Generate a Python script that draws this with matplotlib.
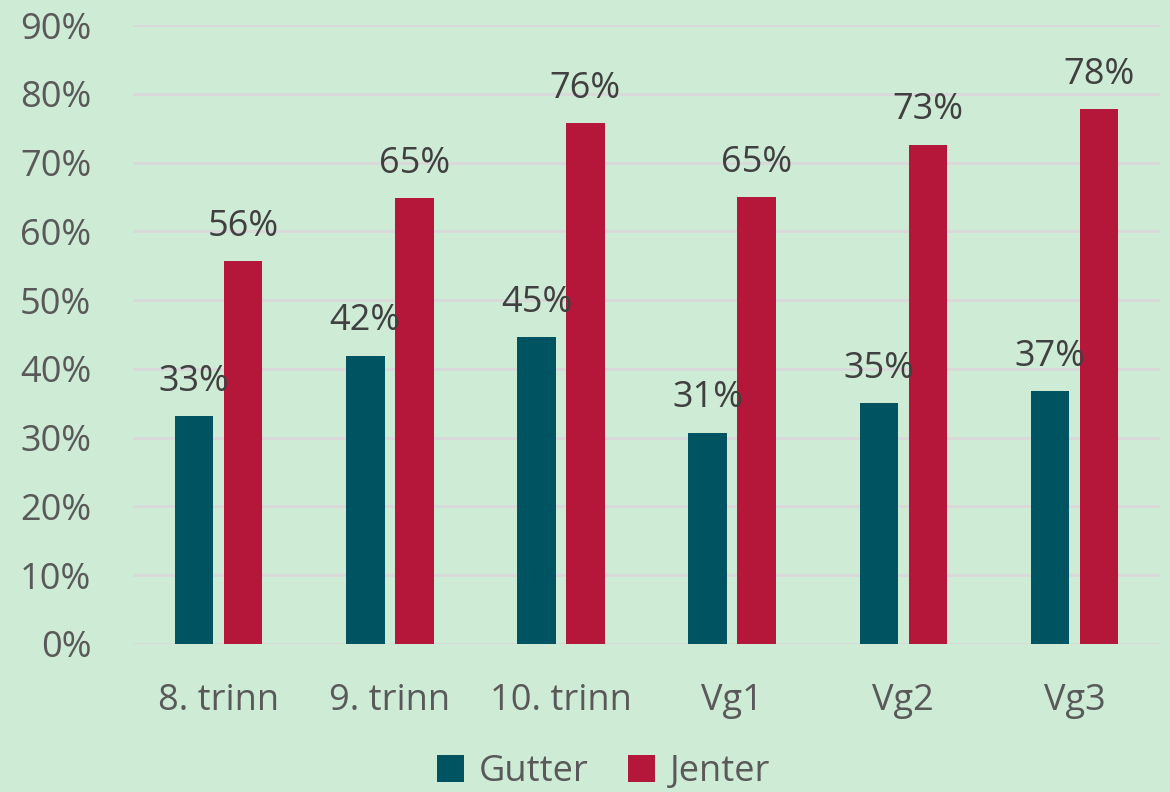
import matplotlib.pyplot as plt
import numpy as np

categories = ["8. trinn", "9. trinn", "10. trinn", "Vg1", "Vg2", "Vg3"]
gutter = [33.1, 41.9, 44.6, 30.7, 35.0, 36.8]
jenter = [55.7, 64.8, 75.7, 65.0, 72.6, 77.8]

bg = "#CEEBD6"
teal = "#005461"
crimson = "#B5173B"
txt = "#595959"

plt.rcParams['font.family'] = ['Open Sans', 'DejaVu Sans']

fig = plt.figure(figsize=(11.7, 7.92), dpi=100, facecolor=bg)
ax = fig.add_axes([0.1137, 0.1869, 0.8778, 0.7815], facecolor=bg)

x = np.arange(len(categories))
w = 0.225
b1 = ax.bar(x - 0.143, gutter, w, color=teal, label="Gutter", zorder=3)
b2 = ax.bar(x + 0.143, jenter, w, color=crimson, label="Jenter", zorder=3)

for bars, vals in ((b1, gutter), (b2, jenter)):
    for r, v in zip(bars, vals):
        ax.text(r.get_x() + r.get_width() / 2, v + 5.0, f"{round(v)}%", ha="center",
                va="center", fontsize=26, color="#404040", zorder=4)

ax.set_xlim(-0.5, len(categories) - 0.5)
ax.set_ylim(0, 90)
ax.set_yticks(range(0, 91, 10))
ax.set_yticklabels([f"{t}%" for t in range(0, 91, 10)])
ax.set_xticks(x)
ax.set_xticklabels(categories)
ax.tick_params(axis="both", length=0, labelsize=26, labelcolor=txt)
ax.tick_params(axis="y", pad=30)
ax.tick_params(axis="x", pad=28)
ax.grid(axis="y", color="#D9D9D9", linewidth=2, zorder=0)
for s in ax.spines.values():
    s.set_visible(False)

fig.legend(loc="center", bbox_to_anchor=(0.516, 0.025), ncol=2, frameon=False,
           fontsize=26, labelcolor=txt, handlelength=0.75, handleheight=0.75,
           handletextpad=0.4, columnspacing=1.1)

fig.savefig("out.png", dpi=100, facecolor=bg)
